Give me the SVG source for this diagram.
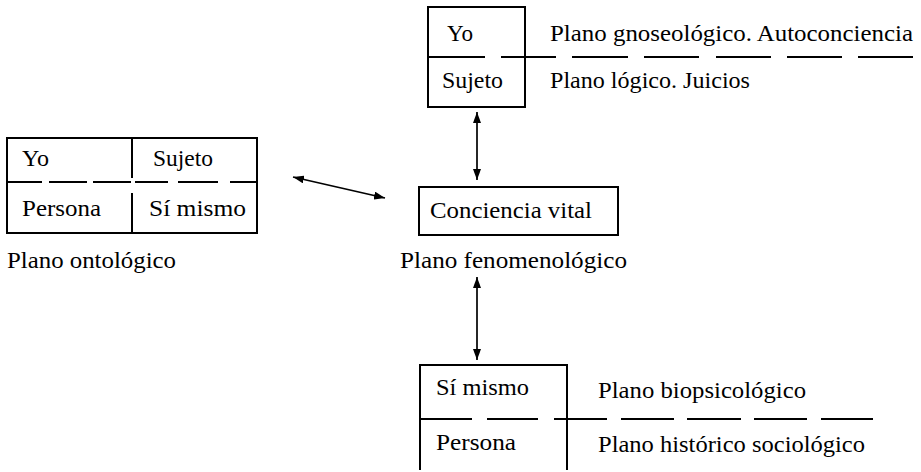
<svg xmlns="http://www.w3.org/2000/svg" width="921" height="472" viewBox="0 0 921 472">
<defs>
<marker id="ah" viewBox="0 0 11 8" refX="11" refY="4" markerWidth="11" markerHeight="8" markerUnits="userSpaceOnUse" orient="auto-start-reverse">
<path d="M0,0 L11,4 L0,8 z" fill="#000"/>
</marker>
<style>
text{font-family:"Liberation Serif","Times New Roman",serif;font-size:23px;fill:#000}
.box{fill:none;stroke:#000;stroke-width:2}
.dash{fill:none;stroke:#000;stroke-width:2}
.arr{fill:none;stroke:#000;stroke-width:1.7}
</style>
</defs>
<rect width="921" height="472" fill="#fff"/>
<g id="top-node">
<rect class="box" x="428" y="7" width="97" height="100"/>
<path class="dash" d="M428,57H485M501,57H556M572,57H628M644,57H699M716,57H771M787,57H842M858,57H913"/>
<text x="447" y="41" textLength="26" lengthAdjust="spacingAndGlyphs">Yo</text>
<text x="442" y="88" textLength="61" lengthAdjust="spacingAndGlyphs">Sujeto</text>
<text x="550" y="41" textLength="363" lengthAdjust="spacingAndGlyphs">Plano gnoseológico. Autoconciencia</text>
<text x="550" y="88" textLength="200" lengthAdjust="spacingAndGlyphs">Plano lógico. Juicios</text>
</g>
<g id="left-node">
<rect class="box" x="7" y="138" width="250" height="95"/>
<path class="box" d="M132,138V178M132,193V233"/>
<path class="dash" d="M7,182H42M49,182H87M93,182H131M135,182H168M178,182H218M230,182H257"/>
<text x="22" y="166" textLength="27" lengthAdjust="spacingAndGlyphs">Yo</text>
<text x="153" y="166" textLength="60" lengthAdjust="spacingAndGlyphs">Sujeto</text>
<text x="22" y="216" textLength="79" lengthAdjust="spacingAndGlyphs">Persona</text>
<text x="149" y="216" textLength="97" lengthAdjust="spacingAndGlyphs">Sí mismo</text>
<text x="7" y="268" textLength="169" lengthAdjust="spacingAndGlyphs">Plano ontológico</text>
</g>
<g id="center-node">
<rect class="box" x="419" y="187" width="199" height="48"/>
<text x="430" y="218" textLength="162" lengthAdjust="spacingAndGlyphs">Conciencia vital</text>
<text x="400" y="268" textLength="227" lengthAdjust="spacingAndGlyphs">Plano fenomenológico</text>
</g>
<g id="bottom-node">
<path class="box" d="M420,470V365H567V470"/>
<path class="dash" d="M420,419H472M487,419H538M554,419H607M621,419H674M687,419H741M754,419H807M821,419H873"/>
<text x="436" y="395" textLength="93" lengthAdjust="spacingAndGlyphs">Sí mismo</text>
<text x="436" y="450" textLength="80" lengthAdjust="spacingAndGlyphs">Persona</text>
<text x="598" y="398" textLength="208" lengthAdjust="spacingAndGlyphs">Plano biopsicológico</text>
<text x="598" y="452" textLength="267" lengthAdjust="spacingAndGlyphs">Plano histórico sociológico</text>
</g>
<g id="connectors">
<line class="arr" x1="477" y1="112" x2="477" y2="180" marker-start="url(#ah)" marker-end="url(#ah)"/>
<line class="arr" x1="477" y1="277" x2="477" y2="360" marker-start="url(#ah)" marker-end="url(#ah)"/>
<line class="arr" x1="293" y1="177" x2="385" y2="198" marker-start="url(#ah)" marker-end="url(#ah)"/>
</g>
</svg>
